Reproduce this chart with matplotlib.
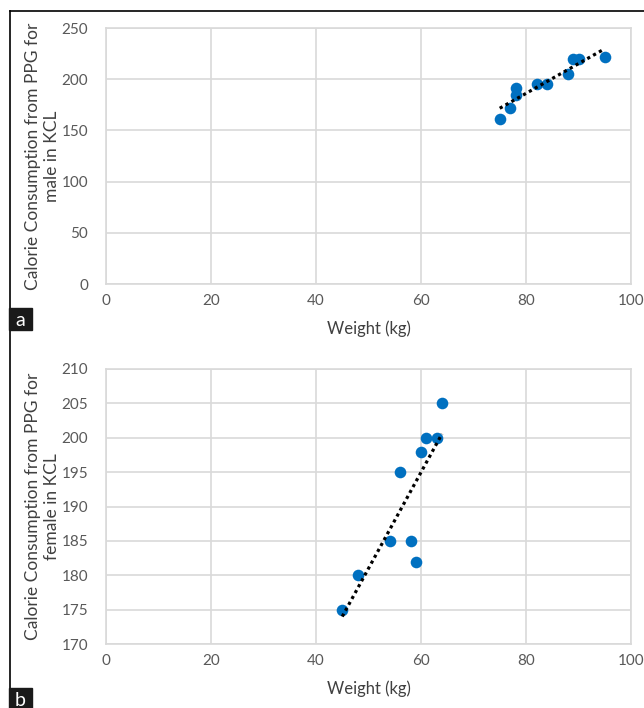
import numpy as np
import matplotlib.pyplot as plt
from matplotlib.patches import Rectangle
from matplotlib.lines import Line2D

plt.rcParams['font.family'] = ['Lato', 'DejaVu Sans']

# male subjects (panel a)
male_weight = [75, 77, 78, 78, 82, 84, 88, 89, 90, 95]
male_cal = [161, 172, 185, 191, 195, 195, 205, 220, 220, 222]

# female subjects (panel b)
female_weight = [45, 48, 54, 56, 58, 59, 60, 61, 63, 64]
female_cal = [175, 180, 185, 195, 185, 182, 198, 200, 200, 205]

x_ticks = [0, 20, 40, 60, 80, 100]
male_yticks = [0, 50, 100, 150, 200, 250]
female_yticks = [170, 175, 180, 185, 190, 195, 200, 205, 210]

W, H = 644, 708
fig = plt.figure(figsize=(W / 100, H / 100), dpi=100)

grid_col = '#d9d9d9'
text_col = '#595959'
blue = '#0070c0'


def panel(rect, xs, ys, yticks, ylabel):
    ax = fig.add_axes(rect)
    ax.scatter(xs, ys, s=70, color=blue, zorder=3, linewidths=0)
    # linear trendline over the data range
    k, b = np.polyfit(xs, ys, 1)
    tx = np.array([min(xs), max(xs)])
    ax.plot(tx, k * tx + b, color='black', lw=2.3, ls=(0, (1, 1.1)), zorder=4)
    ax.set_xlim(0, 100)
    ax.set_ylim(yticks[0], yticks[-1])
    ax.set_xticks(x_ticks)
    ax.set_yticks(yticks)
    ax.grid(True, color=grid_col, lw=1.2)
    ax.set_axisbelow(True)
    for s in ax.spines.values():
        s.set_color(grid_col)
        s.set_linewidth(1.2)
    ax.tick_params(length=0, labelsize=11, colors=text_col, pad=7)
    ax.tick_params(axis='y', pad=13)
    ax.set_xlabel('Weight (kg)', fontsize=12, color='#404040')
    ax.set_ylabel(ylabel, fontsize=12.5, color='#404040', linespacing=1.2)
    ax.yaxis.set_label_coords(-0.088, 0.5)
    return ax


ax1 = panel([106 / W, 1 - 284 / H, 525 / W, 256 / H],
            male_weight, male_cal, male_yticks,
            'Calorie Consumption from PPG for\nmale in KCL')
ax1.xaxis.set_label_coords(0.5, -0.143)
ax2 = panel([106 / W, 1 - 644 / H, 525 / W, 275 / H],
            female_weight, female_cal, female_yticks,
            'Calorie Consumption from PPG for\nfemale in KCL')
ax2.xaxis.set_label_coords(0.5, -0.133)

# outer frame lines
fig.add_artist(Line2D([9.5 / W, 9.5 / W], [0, 1 - 11 / H], color='black', lw=1.2))
fig.add_artist(Line2D([9.5 / W, 1], [1 - 11 / H, 1 - 11 / H], color='black', lw=1.2))

# panel letters
for letter, top in [('a', 308), ('b', 688)]:
    fig.add_artist(Rectangle((9 / W, 1 - (top + 22) / H), 23 / W, 22 / H,
                             transform=fig.transFigure, color='#1a1a1a', zorder=5))
    fig.text(20.5 / W, 1 - (top + 12) / H, letter, color='white', fontsize=14,
             ha='center', va='center', zorder=6)

fig.savefig('out.png', dpi=100)
